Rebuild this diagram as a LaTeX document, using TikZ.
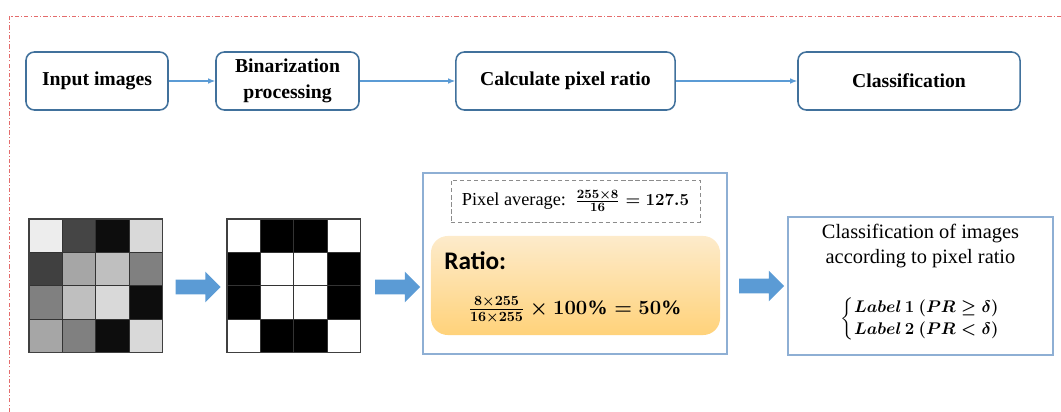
\documentclass[tikz,border=0pt]{standalone}
\usepackage{fontspec}
\setmainfont{Liberation Serif}
\newfontfamily\calibri{Carlito}
\usepackage{amsmath, amssymb}
\usepackage{bm}
\usepackage{xcolor}
\usetikzlibrary{arrows.meta, positioning, calc, shapes, shapes.arrows}

\definecolor{bordoblu}{HTML}{41719C}
\definecolor{lineablu}{HTML}{5B9BD5}
\definecolor{cornice}{HTML}{8EAFD4}
\definecolor{rosso}{HTML}{E46C6C}
\definecolor{arancioA}{HTML}{FDEBCB}
\definecolor{arancioB}{HTML}{FFD27A}

\begin{document}
\begin{tikzpicture}[x=0.025cm, y=-0.025cm,
    passo/.style={draw=bordoblu, line width=1.1pt, rounded corners=6pt, minimum height=1.45cm,
        align=center, font=\fontsize{14}{18.5}\selectfont\bfseries, inner sep=2pt},
    freccina/.style={-{Latex[length=5pt, width=4pt]}, lineablu, line width=0.8pt},
    frecciona/.style={single arrow, fill=lineablu, draw=none, minimum height=1.125cm,
        inner xsep=0pt, inner ysep=0.175cm, single arrow head extend=0.2cm},
    riquadro/.style={draw=cornice, line width=0.9pt}]
    \useasboundingbox (0,0) rectangle (1061,412);

    % Cornice
    \draw[rosso, line width=0.7pt, dash pattern={on 3pt off 1.5pt on 0.8pt off 1.5pt}]
        (9,412) -- (9,16) -- (1061,16);

    % Passi
    \node[passo, minimum width=3.55cm] (input) at (97,81) {Input images};
    \node[passo, minimum width=3.575cm] (binar) at (287.5,81) {Binarization\\processing};
    \node[passo, minimum width=5.475cm] (calc) at (565.5,81) {Calculate pixel ratio};
    \node[passo, minimum width=5.55cm] (classif) at (909,81) {Classification};
    \draw[freccina] (input) -- (binar);
    \draw[freccina] (binar) -- (calc);
    \draw[freccina] (calc) -- (classif);

    % Immagine in scala di grigi
    \foreach \riga [count=\r from 0] in {{7,73,95,15},{75,35,25,50},{50,25,15,95},{35,50,95,15}}
        \foreach \g [count=\c from 0] in \riga
            \fill[black!\g] (29+33.4*\c,219+33.4*\r) rectangle ++(33.4,33.4);
    \foreach \i in {1,2,3} {
        \draw[black!80, line width=0.8pt] (29+33.4*\i,219) -- ++(0,133.6);
        \draw[black!80, line width=0.8pt] (29,219+33.4*\i) -- ++(133.6,0);
    }
    \draw[black!75, line width=1.2pt] (29,219) rectangle (162.6,352.6);
    \coordinate (grigia) at (96,286);

    % Immagine binaria
    \foreach \riga [count=\r from 0] in {{0,100,100,0},{100,0,0,100},{100,0,0,100},{0,100,100,0}}
        \foreach \b [count=\c from 0] in \riga
            \fill[black!\b] (227+33.4*\c,219+33.4*\r) rectangle ++(33.4,33.4);
    \foreach \i in {1,2,3} {
        \draw[black!80, line width=0.8pt] (227+33.4*\i,219) -- ++(0,133.6);
        \draw[black!80, line width=0.8pt] (227,219+33.4*\i) -- ++(133.6,0);
    }
    \draw[black!75, line width=1.2pt] (227,219) rectangle (360.6,352.6);
    \coordinate (binaria) at (294,286);

    % Frecce grosse
    \node[frecciona] (f1) at (194.5,287) {};
    \node[frecciona] (f2) at (394,287) {};
    \node[frecciona] (f3) at (758,286) {};

    % Calcolo
    \node[riquadro, minimum width=7.6cm, minimum height=4.525cm] (calcolo) at (575,263.5) {};
    \node[draw=black!45, densely dashed, line width=0.6pt, minimum width=6.225cm, minimum height=1.05cm,
        font=\fontsize{13}{15}\selectfont] (media) at (575.5,201)
        {Pixel average:\, {\boldmath$\frac{255\times8}{16}=127.5$}};
    \node[rounded corners=12pt, top color=arancioA, bottom color=arancioB, minimum width=7.225cm,
        minimum height=2.475cm] (rapporto) at (575.5,285.5) {};
    \node[anchor=west, inner sep=0pt, font=\calibri\fontsize{18}{20}\selectfont\bfseries] (ratio) at (444,261) {Ratio:};
    \node[font=\fontsize{14.5}{17}\selectfont\boldmath] (formula) at (575,310)
        {$\frac{8\times255}{16\times255}\times100\%=50\%$};

    % Classificazione
    \node[riquadro, minimum width=6.625cm, minimum height=3.45cm] (esito) at (920.5,286) {};
    \node[align=center, font=\fontsize{14.5}{18}\selectfont] (testo) at (920.5,246)
        {Classification of images\\according to pixel ratio};
    \node[font=\fontsize{12.5}{16}\selectfont\boldmath] (casi) at (920.5,319)
        {$\left\{\begin{array}{@{}l@{}}Label\,1\ (PR\geq\delta)\\ Label\,2\ (PR<\delta)\end{array}\right.$};
\end{tikzpicture}
\end{document}
